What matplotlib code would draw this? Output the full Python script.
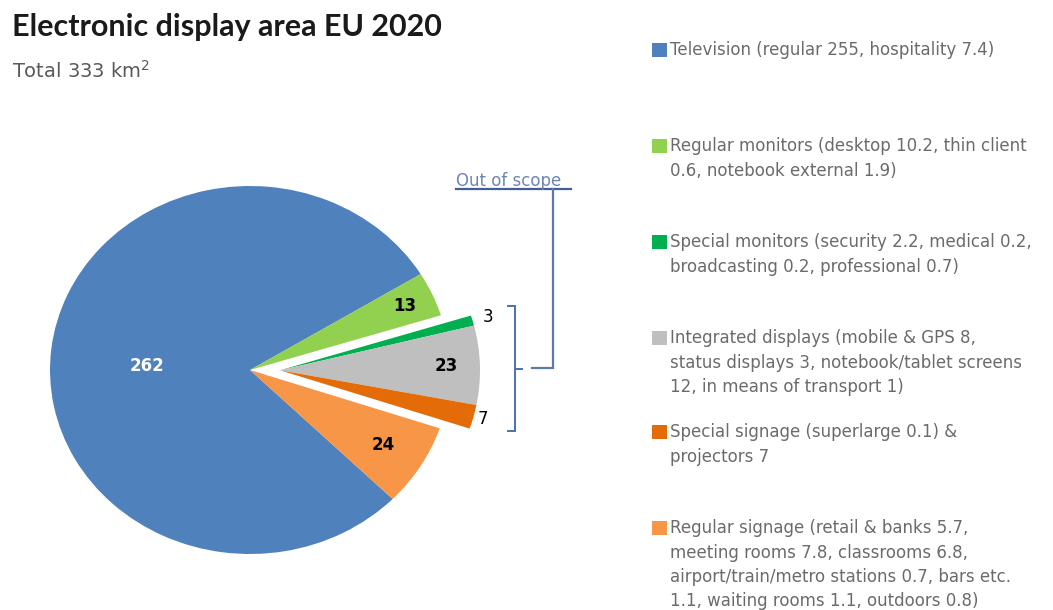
import numpy as np
import matplotlib
matplotlib.use("Agg")
import matplotlib.pyplot as plt

# Display area by segment, km^2
categories = ["Television", "Regular monitors", "Special monitors",
              "Integrated displays", "Special signage", "Regular signage"]
values = [262, 13, 3, 23, 7, 24]
legend_labels = [
    "Television (regular 255, hospitality 7.4)",
    "Regular monitors (desktop 10.2, thin client\n0.6, notebook external 1.9)",
    "Special monitors (security 2.2, medical 0.2,\nbroadcasting 0.2, professional 0.7)",
    "Integrated displays (mobile & GPS 8,\nstatus displays 3, notebook/tablet screens\n12, in means of transport 1)",
    "Special signage (superlarge 0.1) &\nprojectors 7",
    "Regular signage (retail & banks 5.7,\nmeeting rooms 7.8, classrooms 6.8,\nairport/train/metro stations 0.7, bars etc.\n1.1, waiting rooms 1.1, outdoors 0.8)",
]
out_of_scope = ["Special monitors", "Integrated displays", "Special signage"]

colors = ["#4f81bd", "#92d050", "#00b050", "#bfbfbf", "#e36c09", "#f79646"]
label_radius = [0.52, 0.85, 1.08, 0.83, 1.05, 0.78]
label_dy = [-0.035, 0, 0, 0, 0, 0]
label_colors = ["white", "black", "black", "black", "black", "black"]
label_weights = ["bold", "bold", "normal", "bold", "normal", "bold"]

W, H = 1053, 610
fig = plt.figure(figsize=(W / 100, H / 100), dpi=100)

# pie axes: centre (250, 370) px, radii 200 x 184 px
cx, cy, rx, ry = 250, 370, 200, 184
xl, xr, yb, yt = -1.2, 1.3, -1.1, 1.1
ax = fig.add_axes([(cx + xl * rx) / W, (H - cy + yb * ry) / H,
                   (xr - xl) * rx / W, (yt - yb) * ry / H])
wedges, _ = ax.pie(values, colors=colors, startangle=-44.5, counterclock=False,
                   wedgeprops=dict(linewidth=0))
ax.set_aspect("auto")
ax.set_xlim(xl, xr)
ax.set_ylim(yb, yt)
ax.axis("off")

# pull the out-of-scope group out as one block
idx = [categories.index(c) for c in out_of_scope]
g1 = min(wedges[i].theta1 for i in idx)
g2 = max(wedges[i].theta2 for i in idx)
gmid = np.deg2rad((g1 + g2) / 2)
shift = 0.15 * np.array([np.cos(gmid), np.sin(gmid)])
for i in idx:
    wedges[i].set_center(tuple(shift))

for i, w in enumerate(wedges):
    mid = np.deg2rad((w.theta1 + w.theta2) / 2)
    x0, y0 = w.center
    r = label_radius[i]
    ax.text(x0 + r * np.cos(mid), y0 + r * np.sin(mid) + label_dy[i], str(values[i]),
            ha="center", va="center", fontsize=12, color=label_colors[i],
            fontweight=label_weights[i], family="DejaVu Sans")

# overlay in pixel coordinates for title, legend and brackets
ov = fig.add_axes([0, 0, 1, 1], facecolor="none")
ov.set_xlim(0, W)
ov.set_ylim(H, 0)
ov.axis("off")

ov.text(12, 27, "Electronic display area EU 2020", fontsize=22, fontweight="bold",
        color="#1a1a1a", family="Lato", va="center", ha="left")
ov.text(12, 71, "Total 333 km$^2$", fontsize=14, color="#595959",
        family="DejaVu Sans", va="center", ha="left")

# legend
legend_y = [50, 146, 242, 338, 432, 528]
line_h = 24.5
for lab, col, y in zip(legend_labels, colors, legend_y):
    ov.add_patch(plt.Rectangle((652, y - 7), 15, 14, color=col, lw=0))
    for k, line in enumerate(lab.split("\n")):
        ov.text(670, y + k * line_h, line, fontsize=12, color="#6b6b6b",
                family="DejaVu Sans", va="center", ha="left")

# brace around the exploded group and the "Out of scope" call-out
bc = "#4a72b0"
ov.plot([508, 515, 515, 508], [306, 306, 431, 431], color=bc, lw=1.4,
        solid_joinstyle="miter")
ov.plot([515, 522], [369, 369], color=bc, lw=1.4)
ov.plot([456, 571], [189, 189], color="#3f5f96", lw=1.6)
ov.plot([553, 553, 532], [189, 368, 368], color="#5b79ab", lw=1.6,
        solid_joinstyle="miter")
ov.text(456, 181, "Out of scope", fontsize=12, color="#6d86b5",
        family="DejaVu Sans", va="center", ha="left")

fig.savefig("out.png", dpi=100)
